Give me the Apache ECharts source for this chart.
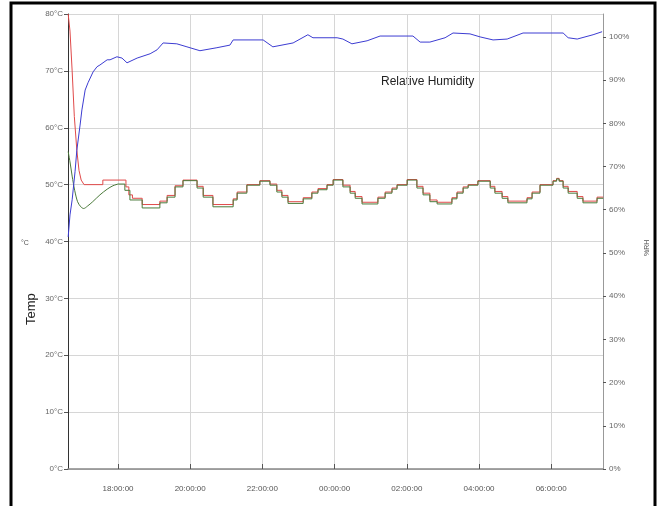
<!DOCTYPE html>
<html><head><meta charset="utf-8">
<script src="https://cdn.jsdelivr.net/npm/echarts@6/dist/echarts.min.js"></script>
<style>html,body{margin:0;padding:0;background:#fff}#c{width:659px;height:506px}</style>
</head><body><div id="c"></div>
<script>
// time axis in hours (24+ = next day)
const xTickHours = [18, 20, 22, 24, 26, 28, 30];
const tempTicks = [0, 10, 20, 30, 40, 50, 60, 70, 80];
const rhTicks = [0, 10, 20, 30, 40, 50, 60, 70, 80, 90, 100];

// red temperature trace: start-up transient (smooth) then stepped cycling
const temp1Start = [[16.62,80.0],[16.67,77.0],[16.73,70.0],[16.79,62.0],[16.86,56.0],[16.92,52.5],[16.98,50.8],[17.06,50.0]];
const temp1 = [[17.06,50.0],[17.58,50.8],[18.22,49.6],[18.30,48.2],[18.40,47.6],[18.67,46.5],[19.16,47.1],[19.36,48.1],[19.58,49.8],[19.80,50.8],[20.19,49.7],[20.36,48.1],[20.63,46.5],[21.19,47.5],[21.30,48.7],[21.57,50.0],[21.93,50.7],[22.21,50.1],[22.40,49.0],[22.54,48.1],[22.71,47.0],[23.13,47.7],[23.37,48.7],[23.54,49.3],[23.79,50.0],[23.96,50.9],[24.23,49.9],[24.43,48.8],[24.57,47.9],[24.76,46.9],[25.20,47.8],[25.40,48.7],[25.59,49.4],[25.73,50.0],[26.01,50.9],[26.28,49.7],[26.45,48.5],[26.64,47.3],[26.84,46.9],[27.25,47.7],[27.39,48.7],[27.56,49.6],[27.70,50.0],[27.97,50.7],[28.31,49.7],[28.44,48.8],[28.64,47.9],[28.80,47.1],[29.33,47.7],[29.47,48.7],[29.69,50.0],[30.05,50.7],[30.15,51.1],[30.22,50.7],[30.33,49.7],[30.47,48.8],[30.72,47.9],[30.88,47.1],[31.27,47.8],[31.44,47.8]];

// green temperature trace: start-up transient (smooth) then stepped cycling
const temp2Start = [[16.62,55.8],[16.67,54.0],[16.73,51.5],[16.80,49.0],[16.88,47.0],[16.97,46.1],[17.05,45.8],[17.15,46.2],[17.30,47.0],[17.50,48.2],[17.70,49.2],[17.86,49.8],[18.00,50.1]];
const temp2 = [[18.00,50.1],[18.19,49.0],[18.33,47.3],[18.67,45.9],[19.16,46.8],[19.36,47.8],[19.58,49.6],[19.80,50.7],[20.19,49.4],[20.36,47.8],[20.63,46.1],[21.19,47.3],[21.30,48.5],[21.57,49.9],[21.93,50.6],[22.21,49.9],[22.40,48.7],[22.54,47.8],[22.71,46.7],[23.13,47.5],[23.37,48.5],[23.54,49.1],[23.79,49.9],[23.96,50.8],[24.23,49.6],[24.43,48.5],[24.57,47.6],[24.76,46.6],[25.20,47.6],[25.40,48.5],[25.59,49.2],[25.73,49.9],[26.01,50.8],[26.28,49.4],[26.45,48.2],[26.64,47.0],[26.84,46.6],[27.25,47.5],[27.39,48.5],[27.56,49.4],[27.70,49.9],[27.97,50.6],[28.31,49.4],[28.44,48.5],[28.64,47.6],[28.80,46.8],[29.33,47.5],[29.47,48.5],[29.69,49.9],[30.05,50.6],[30.15,51.0],[30.22,50.6],[30.33,49.4],[30.47,48.5],[30.72,47.6],[30.88,46.8],[31.27,47.6],[31.44,47.6]];

// relative humidity (%)
const humidity = [[16.62,53.7],[16.67,58.8],[16.73,62.3],[16.81,68.8],[16.86,73.8],[16.95,79.6],[17.00,83.1],[17.09,87.7],[17.17,89.4],[17.31,91.9],[17.42,93.1],[17.50,93.5],[17.70,94.7],[17.78,94.7],[17.97,95.4],[18.11,95.1],[18.25,94.0],[18.53,95.1],[18.89,96.1],[19.08,97.0],[19.25,98.6],[19.63,98.4],[19.91,97.7],[20.27,96.8],[20.74,97.5],[21.10,98.1],[21.19,99.3],[22.02,99.3],[22.29,97.7],[22.85,98.6],[23.26,100.5],[23.40,99.8],[24.07,99.8],[24.23,99.5],[24.48,98.4],[24.90,99.1],[25.26,100.2],[26.17,100.2],[26.37,98.8],[26.64,98.8],[27.06,99.8],[27.28,100.9],[27.75,100.7],[28.03,100.0],[28.39,99.3],[28.78,99.5],[29.22,100.9],[30.33,100.9],[30.47,99.8],[30.72,99.5],[31.16,100.5],[31.41,101.2]];

const pad = n => (n < 10 ? '0' : '') + n;
const chart = echarts.init(document.getElementById('c'), null, {renderer: 'canvas'});
const FONT = 'Liberation Sans, Arial, sans-serif';
const RED = '#e04a4a', GREEN = '#4a7a3a', BLUE = '#3c3cd2';
chart.setOption({
  animation: false,
  backgroundColor: '#fff',
  grid: {left: 68, right: 56, top: 14, bottom: 37, containLabel: false, outerBoundsMode: 'none'},
  xAxis: {
    type: 'value', min: 16.615, max: 31.435,
    axisLine: {show: true, lineStyle: {color: '#888', width: 1.5}},
    axisTick: {show: true, inside: true, length: 5, customValues: xTickHours, lineStyle: {color: '#555'}},
    axisLabel: {customValues: xTickHours, fontSize: 8, color: '#555', fontFamily: FONT, margin: 16,
      formatter: v => pad(Math.round(v) % 24) + ':00:00'},
    splitLine: {show: true, lineStyle: {color: '#d6d6d6', width: 1}}
  },
  yAxis: [{
    type: 'value', min: 0, max: 80, interval: 10, position: 'left',
    axisLine: {show: true, lineStyle: {color: '#333', width: 1}},
    axisTick: {show: true, length: 4, lineStyle: {color: '#555'}},
    axisLabel: {fontSize: 8, color: '#666', fontFamily: FONT, margin: 5, formatter: v => v + '°C'},
    splitLine: {show: true, lineStyle: {color: '#d6d6d6', width: 1}}
  }, {
    type: 'value', min: 0, max: 105.3, position: 'right',
    axisLine: {show: true, lineStyle: {color: '#999', width: 1}},
    axisTick: {show: true, length: 3, customValues: rhTicks, lineStyle: {color: '#555'}},
    axisLabel: {customValues: rhTicks, fontSize: 8, color: '#666', fontFamily: FONT, margin: 6, formatter: v => v + '%'},
    splitLine: {show: false}
  }],
  series: [{
    name: 'Temp 1', type: 'line', data: temp1Start, yAxisIndex: 0,
    showSymbol: false, lineStyle: {color: RED, width: 1}
  }, {
    name: 'Temp 1', type: 'line', data: temp1, step: 'end', yAxisIndex: 0,
    showSymbol: false, lineStyle: {color: RED, width: 1}
  }, {
    name: 'Temp 2', type: 'line', data: temp2Start, yAxisIndex: 0, smooth: 0.3,
    showSymbol: false, lineStyle: {color: GREEN, width: 1}
  }, {
    name: 'Temp 2', type: 'line', data: temp2, step: 'end', yAxisIndex: 0,
    showSymbol: false, lineStyle: {color: GREEN, width: 1}
  }, {
    name: 'Relative Humidity', type: 'line', data: humidity, yAxisIndex: 1,
    showSymbol: false, lineStyle: {color: BLUE, width: 1}
  }],
  graphic: [
    {type: 'rect', shape: {x: 11, y: 3, width: 644, height: 510}, style: {fill: 'none', stroke: '#000', lineWidth: 3}, silent: true},
    {type: 'text', x: 381, y: 76, style: {text: 'Relative Humidity', fontSize: 12, fontFamily: FONT, fill: '#222'}},
    {type: 'text', x: 25, y: 325, rotation: Math.PI / 2, style: {text: 'Temp', fontSize: 13, fontFamily: FONT, fill: '#222'}},
    {type: 'text', x: 21, y: 240, style: {text: '°C', fontSize: 7, fontFamily: FONT, fill: '#555'}},
    {type: 'text', x: 644, y: 256, rotation: Math.PI / 2, style: {text: '%RH', fontSize: 7, fontFamily: FONT, fill: '#555'}}
  ]
});
</script>
</body></html>
